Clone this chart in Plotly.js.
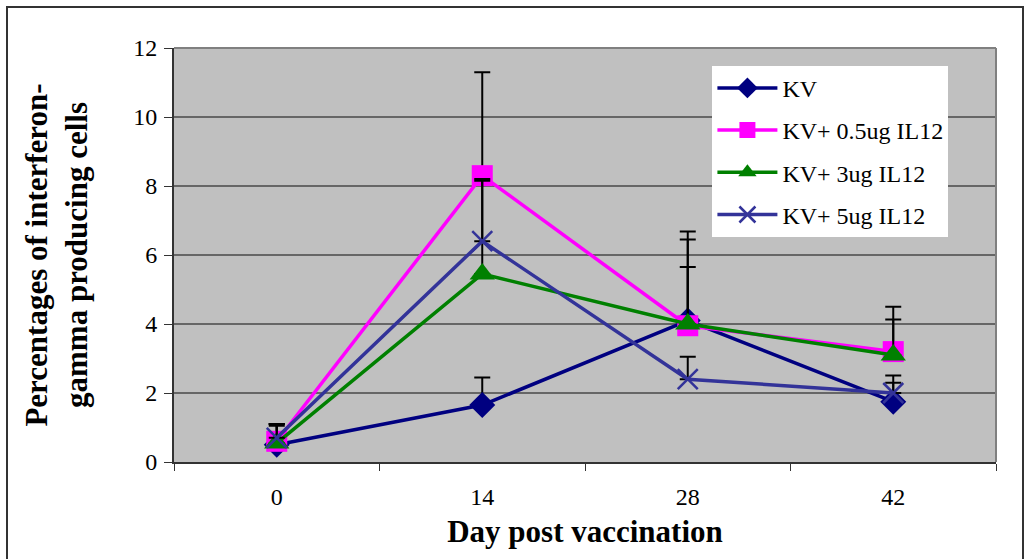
<!DOCTYPE html>
<html>
<head>
<meta charset="utf-8">
<script src="https://cdn.plot.ly/plotly-3.0.1.min.js"></script>
<style>
html,body{margin:0;padding:0;background:#fff;}
#wrap{position:relative;width:1030px;height:559px;}
#chart{width:1030px;height:559px;}
#frame{position:absolute;left:6px;top:6px;width:1014px;height:600px;border:2px solid #333;pointer-events:none;}
</style>
</head>
<body>
<div id="wrap"><div id="chart"></div><div id="frame"></div></div>
<script>
const days = ["0", "14", "28", "42"];
const seriesNames = ["KV", "KV+ 0.5ug IL12", "KV+ 3ug IL12", "KV+ 5ug IL12"];
const kv      = [0.5, 1.65, 4.1, 1.75];
const kv05    = [0.6, 8.3, 3.95, 3.2];
const kv3     = [0.55, 5.45, 4.0, 3.1];
const kv5     = [0.7, 6.4, 2.4, 2.0];
const kvErr   = [0.6, 0.8, 1.55, 0.76];
const kv05Err = [0.5, 3.0, 2.73, 1.3];
const kv3Err  = [0.5, 2.7, 2.45, 1.03];
const kv5Err  = [0.4, 1.8, 0.65, 0.3];

const colors = ["#000080", "#FF00FF", "#008000", "#333399"];
const symbols = ["diamond", "square", "triangle-up", "x-thin-open"];
const sizes = [20, 21, 22, 20];
const vals = [kv, kv05, kv3, kv5];
const errs = [kvErr, kv05Err, kv3Err, kv5Err];

const traces = vals.map((v, i) => ({
  x: days, y: v, name: seriesNames[i], type: "scatter", mode: "lines+markers",
  legendgroup: "g" + i,
  line: {color: colors[i], width: 3.5},
  marker: {symbol: symbols[i], size: sizes[i], color: colors[i],
           line: {color: colors[i], width: i === 3 ? 2.5 : 0}},
  error_y: {type: "data", symmetric: false, array: errs[i], arrayminus: [0,0,0,0],
            color: "#000", thickness: 2, width: 8}
}));

const layout = {
  width: 1030, height: 559,
  margin: {l: 174, r: 34, t: 48, b: 97},
  paper_bgcolor: "#fff", plot_bgcolor: "#C0C0C0",
  font: {family: "Liberation Serif, Times New Roman, serif", color: "#000", size: 24},
  showlegend: true,
  legend: {x: 0.655, y: 0.957, xanchor: "left", yanchor: "top", bgcolor: "#fff",
           borderwidth: 0, font: {size: 24}, traceorder: "grouped", tracegroupgap: 8,
           itemwidth: 60},
  xaxis: {type: "category", range: [-0.5, 3.5], tickson: "boundaries", ticks: "outside",
          ticklen: 7, tickcolor: "#333", showline: true, linecolor: "#333", linewidth: 2,
          showgrid: false, mirror: false, zeroline: false, ticklabelstandoff: 12,
          tickfont: {size: 24},
          title: {text: "<b>Day post vaccination</b>", font: {size: 31}, standoff: 12}},
  yaxis: {range: [0, 12], dtick: 2, ticks: "outside", ticklen: 8, tickcolor: "#333",
          showline: true, linecolor: "#333", linewidth: 2, gridcolor: "#666", gridwidth: 1.5,
          zeroline: false, tickfont: {size: 24}, ticklabelstandoff: 2,
          title: {text: "<b>Percentages of interferon-<br>gamma producing cells</b>", font: {size: 31}, standoff: 36}},
  shapes: [
    {type: "line", xref: "paper", yref: "paper", x0: 0, x1: 1, y0: 1, y1: 1, line: {color: "#808080", width: 2}},
    {type: "line", xref: "paper", yref: "paper", x0: 1, x1: 1, y0: 0, y1: 1, line: {color: "#808080", width: 2}}
  ]
};

Plotly.newPlot("chart", traces, layout, {displayModeBar: false, staticPlot: true});
</script>
</body>
</html>
